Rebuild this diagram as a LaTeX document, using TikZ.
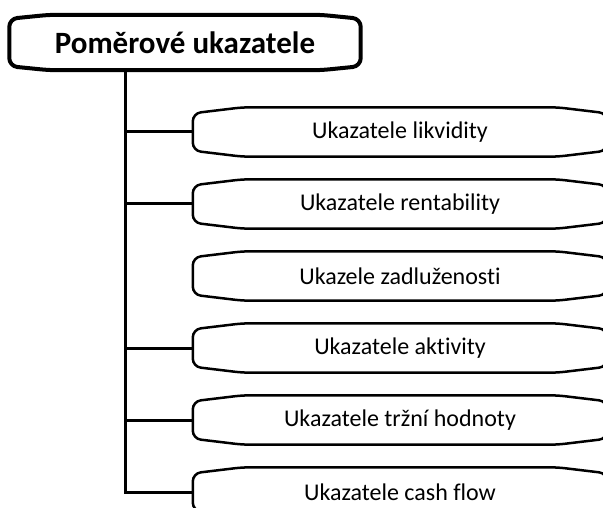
\documentclass[tikz,border=0pt]{standalone}
\usepackage{fontspec}
\setmainfont[Ligatures=NoCommon]{Carlito}
\begin{document}
\begin{tikzpicture}[x=1pt,y=-1pt,
  ukbox/.style={minimum width=414pt,minimum height=49pt,inner sep=0pt,font=\fontsize{24}{28}\selectfont},
  headbox/.style={minimum width=351pt,minimum height=55pt,inner sep=0pt,font=\fontsize{31}{36}\selectfont\bfseries},
  outline/.style={line width=2.5pt,rounded corners=8pt,line join=round},
  branch/.style={line width=3pt}]
\clip (0,0) rectangle (603,508);
\node at (185,42.5) [headbox] (head) {Poměrové ukazatele};
\node at (400,132) [ukbox] (b1) {Ukazatele likvidity};
\node at (400,204) [ukbox] (b2) {Ukazatele rentability};
\node at (400,276) [ukbox] (b3) {Ukazele zadluženosti};
\node at (400,348) [ukbox] (b4) {Ukazatele aktivity};
\node at (400,420) [ukbox] (b5) {Ukazatele tržní hodnoty};
\node at (400,492) [ukbox] (b6) {Ukazatele cash flow};
\coordinate (tr) at (125,70);
% obrysy
\foreach \n/\dy/\dx/\w in {head/4/40/4, b1/6/50/2.5, b2/6/50/2.5, b3/6/50/2.5, b4/6/50/2.5, b5/6/50/2.5, b6/6/50/2.5}
  \draw[outline,line width=\w pt] (\n.west) -- ([yshift=-\dy pt]\n.north west) -- ([xshift=\dx pt]\n.north west)
    -- ([xshift=-\dx pt]\n.north east) -- ([yshift=-\dy pt]\n.north east) -- ([yshift=\dy pt]\n.south east)
    -- ([xshift=-\dx pt]\n.south east) -- ([xshift=\dx pt]\n.south west) -- ([yshift=\dy pt]\n.south west) -- cycle;
% spojnice
\draw[branch] (tr) |- (b6.west);
\foreach \n in {b1,b2,b4,b5}
  \draw[branch] (tr |- \n.west) -- (\n.west);
\end{tikzpicture}
\end{document}
